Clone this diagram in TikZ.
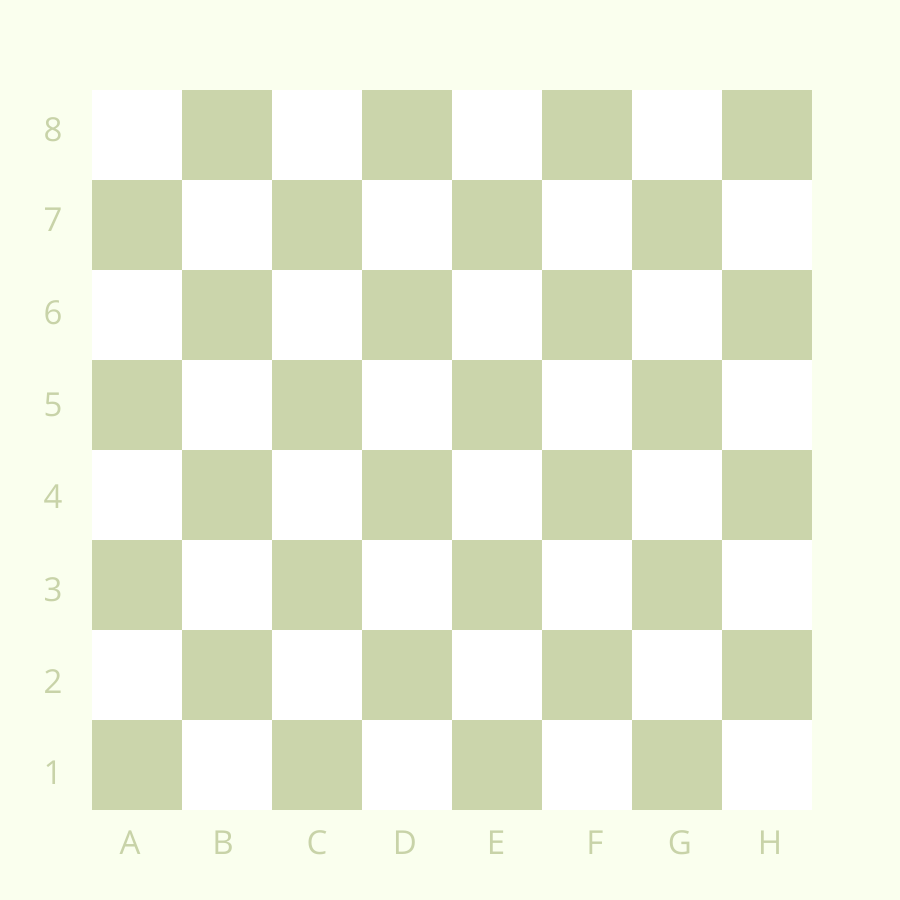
\documentclass[tikz,border=0pt]{standalone}
\usepackage{fontspec}
\setmainfont{Open Sans}
\definecolor{bgc}{HTML}{FAFFEE}
\definecolor{darksq}{HTML}{CBD5AB}
\definecolor{lbl}{HTML}{C8D3A8}
\begin{document}
\begin{tikzpicture}[x=1pt,y=1pt,
  lab/.style={text=lbl,font=\fontsize{33}{33}\selectfont,inner sep=0pt,anchor=center}]
\fill[bgc] (0,0) rectangle (900,900);
\useasboundingbox (0,0) rectangle (900,900);
\fill[white] (92,90) rectangle (812,810);
\foreach \c in {0,...,7}{
  \foreach \r in {0,...,7}{
    \pgfmathtruncatemacro{\parity}{mod(\c+\r,2)}
    \ifnum\parity=0
      \fill[darksq] ({92+90*\c},{90+90*\r}) rectangle ({92+90*(\c+1)},{90+90*(\r+1)});
    \fi
  }
}
% row labels
\foreach \n/\y in {8/130,7/220,6/313,5/405,4/497,3/590,2/682,1/773}{
  \node[lab] (r\n) at (53,{900-\y}) {\n};
}
% column labels
\foreach \n/\x in {A/130,B/223,C/317,D/405,E/496,F/595,G/680,H/770}{
  \node[lab] (c\n) at (\x,{900-843}) {\n};
}
\end{tikzpicture}
\end{document}
